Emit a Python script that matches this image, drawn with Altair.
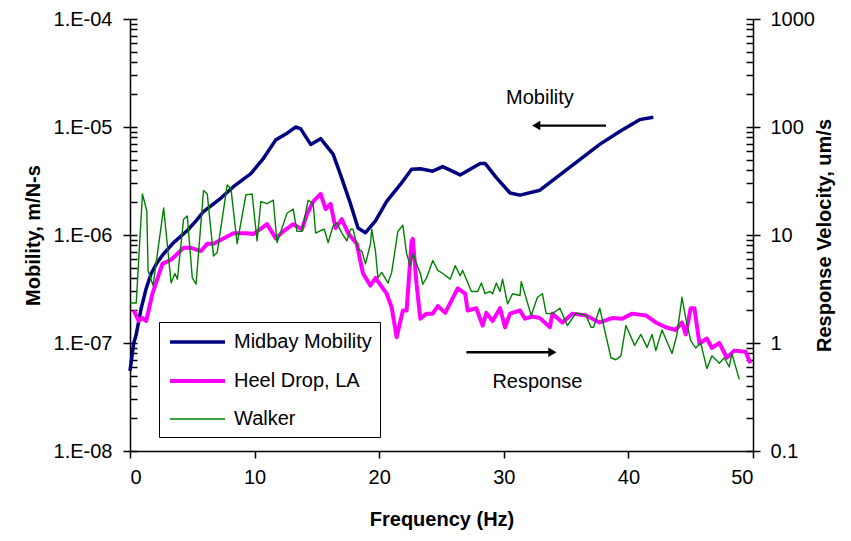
import altair as alt
import pandas as pd

# ---------------- data ----------------
mob_freq = [0.0, 0.3, 0.5, 0.9, 1.3, 1.7, 2.2, 2.7, 3.5, 4.6, 5.3, 5.9, 7.3, 8.3, 9.7,
            10.7, 11.7, 12.5, 13.3, 13.7, 14.5, 15.3, 16.3, 16.9, 17.7, 18.3, 18.9,
            19.7, 20.6, 21.7, 22.6, 23.3, 24.3, 25.1, 26.5, 28.1, 28.5, 29.4, 30.5,
            31.3, 32.9, 34.5, 36.1, 37.7, 39.3, 40.9, 42.0]
mob_val = [5.5e-8, 1.0e-7, 1.2e-7, 2.1e-7, 3.2e-7, 4.4e-7, 5.6e-7, 6.7e-7, 8.5e-7,
           1.1e-6, 1.35e-6, 1.65e-6, 2.2e-6, 2.8e-6, 3.7e-6, 5.1e-6, 7.6e-6, 8.6e-6,
           1.0e-5, 9.6e-6, 6.9e-6, 7.8e-6, 5.6e-6, 3.6e-6, 1.94e-6, 1.16e-6, 1.05e-6,
           1.35e-6, 2.05e-6, 2.94e-6, 4.07e-6, 4.1e-6, 3.9e-6, 4.3e-6, 3.6e-6, 4.6e-6,
           4.6e-6, 3.4e-6, 2.45e-6, 2.34e-6, 2.6e-6, 3.6e-6, 5.0e-6, 6.9e-6, 9.1e-6,
           1.17e-5, 1.23e-5]

heel_freq = [0.3, 0.7, 1.0, 1.3, 1.8, 2.6, 3.3, 4.3, 4.9, 5.7, 6.2, 6.7, 7.5, 8.3, 9.4,
             9.9, 11.0, 11.7, 12.3, 13.1, 13.8, 14.2, 14.7, 15.3, 15.7, 16.1, 16.5,
             17.0, 17.5, 18.2, 18.7, 19.3, 19.7, 20.6, 21.0, 21.4, 21.9, 22.2, 22.6,
             22.7, 23.0, 23.3, 23.8, 24.3, 24.7, 25.3, 25.9, 26.3, 26.9, 27.1, 27.8,
             28.3, 28.6, 29.1, 29.7, 30.1, 30.5, 31.3, 31.7, 32.3, 32.9, 33.7, 33.9,
             34.7, 35.5, 36.6, 37.7, 38.7, 39.5, 40.3, 41.4, 42.2, 43.0, 43.8, 44.3,
             44.6, 45.0, 45.3, 45.7, 46.3, 46.7, 47.3, 47.9, 48.5, 49.4, 49.8]
heel_val = [2.0, 1.6, 1.7, 1.6, 2.86, 5.4, 5.9, 7.6, 7.6, 7.1, 8.3, 8.3, 9.3, 10.4, 10.4,
            10.2, 12.6, 9.3, 10.8, 12.6, 11.3, 15.6, 20.4, 24.0, 17.4, 19.4, 11.6,
            14.0, 10.4, 8.3, 4.4, 3.4, 4.0, 2.86, 2.14, 1.13, 2.0, 2.0, 8.8,
            9.2, 3.5, 1.68, 1.87, 1.87, 2.2, 1.9, 2.6, 3.2, 2.86, 2.0, 2.1,
            1.45, 1.9, 1.6, 2.1, 1.4, 1.87, 2.0, 1.68, 1.76, 1.7, 1.4, 1.87,
            1.55, 1.87, 1.8, 1.55, 1.7, 1.68, 1.87, 1.8, 1.55, 1.4, 1.32, 1.55,
            1.2, 2.1, 2.1, 0.99, 1.1, 0.9, 1.0, 0.73, 0.85, 0.83, 0.65]

walk_freq = [0.0, 0.5, 1.0, 1.35, 1.45, 1.85, 2.7, 3.3, 3.6, 3.8, 4.3, 4.6, 5.0, 5.3,
             5.9, 6.2, 6.7, 7.0, 7.8, 8.1, 8.6, 9.3, 9.8, 10.2, 10.5, 11.0, 11.5,
             11.8, 12.6, 13.1, 13.4, 13.8, 14.3, 14.7, 14.9, 15.3, 15.6, 15.9, 16.3,
             16.6, 17.0, 17.4, 17.7, 17.9, 18.3, 18.6, 18.9, 19.3, 19.4, 19.7, 19.9,
             20.2, 20.7, 21.0, 21.5, 21.9, 22.2, 22.5, 22.7, 23.3, 23.5, 23.8, 24.3,
             24.7, 25.1, 25.7, 26.1, 26.5, 26.7, 27.4, 27.9, 28.2, 28.5, 28.9, 29.1,
             29.4, 29.7, 29.9, 30.3, 30.7, 31.3, 31.4, 32.2, 32.7, 33.1, 33.4, 33.9,
             34.5, 35.1, 35.8, 36.6, 37.0, 37.2, 37.7, 38.6, 39.0, 39.4, 39.8, 40.5,
             41.0, 41.5, 41.9, 42.2, 42.7, 43.5, 43.9, 44.3, 44.6, 45.0, 45.4, 45.8,
             46.3, 46.7, 47.3, 47.7, 48.1, 48.3, 48.9]
walk_val = [2.35, 2.35, 24.0, 16.6, 4.7, 3.4, 17.8, 3.6, 4.4, 3.9, 14.0, 15.0, 4.0, 3.5,
            25.8, 24.0, 6.4, 6.9, 29.0, 27.0, 8.3, 23.5, 24.0, 8.8, 20.4, 19.5, 21.0,
            8.5, 15.9, 17.4, 10.8, 10.8, 21.0, 19.4, 10.4, 11.0, 11.3, 8.5, 12.1,
            13.0, 10.4, 8.8, 11.3, 11.3, 7.4, 7.1, 5.4, 8.3, 11.3, 7.1, 4.0,
            4.5, 3.6, 4.5, 10.8, 12.3, 6.7, 5.2, 6.7, 4.4, 3.5, 4.0, 5.8,
            4.7, 4.4, 3.9, 5.2, 4.2, 4.7, 3.0, 3.0, 3.6, 2.86, 3.0, 2.86,
            3.6, 3.0, 3.9, 2.3, 2.86, 2.75, 3.7, 1.8, 2.65, 2.86, 1.87, 1.87,
            2.1, 1.45, 1.9, 1.8, 1.4, 1.4, 2.1, 0.73, 0.70, 0.76, 1.45, 0.95,
            1.2, 0.91, 1.2, 0.85, 1.32, 0.8, 1.2, 2.65, 1.7, 1.05, 0.9, 1.0,
            0.58, 0.76, 0.65, 0.73, 0.6, 0.8, 0.46]

series_names = ["Midbay Mobility", "Heel Drop, LA", "Walker"]
series_colors = ["#000080", "#FF00FF", "#008000"]
series_widths = [3.5, 4.0, 1.4]

x_ticks = [0, 10, 20, 30, 40, 50]
left_ticks = [1e-8, 1e-7, 1e-6, 1e-5, 1e-4]
right_ticks = [0.1, 1, 10, 100, 1000]
left_minor = [m * 10.0 ** e for e in range(-8, -4) for m in range(1, 10)] + [1e-4]
right_minor = [m * 10.0 ** e for e in range(-1, 3) for m in range(1, 10)] + [1000]

# annotations (data coordinates)
mob_label = {"freq": [32.9], "value": [1.87e-5], "text": ["Mobility"]}
mob_arrow = {"freq": [38.2], "freq2": [32.6], "value": [1.03e-5]}
resp_label = {"freq": [32.7], "value": [0.44], "text": ["Response"]}
resp_arrow = {"freq": [27.0], "freq2": [33.9], "value": [0.82]}

# ---------------- chart ----------------
W, H = 623, 432
FONT = "Liberation Sans"

mob_df = pd.DataFrame({"freq": mob_freq, "value": mob_val, "series": "Midbay Mobility"})
resp_df = pd.concat([
    pd.DataFrame({"freq": heel_freq, "value": heel_val, "series": "Heel Drop, LA"}),
    pd.DataFrame({"freq": walk_freq, "value": walk_val, "series": "Walker"}),
], ignore_index=True)

left_scale = alt.Scale(type="log", domain=[1e-8, 1e-4], nice=False)
right_scale = alt.Scale(type="log", domain=[0.1, 1000], nice=False)

x_enc = alt.X("freq:Q", scale=alt.Scale(domain=[0, 50], nice=False),
              axis=alt.Axis(values=x_ticks, title="Frequency (Hz)", tickSize=7,
                            labelPadding=9, titlePadding=22, format="d"))

color = alt.Color("series:N", scale=alt.Scale(domain=series_names, range=series_colors),
                  legend=alt.Legend(title=None))
sw = alt.StrokeWidth("series:N",
                     scale=alt.Scale(type="ordinal", domain=series_names, range=series_widths),
                     legend=alt.Legend(title=None))

mob_line = alt.Chart(mob_df).mark_line(strokeJoin="round").encode(
    x=x_enc,
    y=alt.Y("value:Q", scale=left_scale,
            axis=alt.Axis(orient="left", values=left_ticks, tickSize=7, labelPadding=11,
                          labelExpr="'1.E-0' + round(-log(datum.value)/LN10)",
                          title="Mobility, m/N-s", titlePadding=10)),
    color=color, strokeWidth=sw,
)

resp_line = alt.Chart(resp_df).mark_line(strokeJoin="round").encode(
    x=x_enc,
    y=alt.Y("value:Q", scale=right_scale,
            axis=alt.Axis(orient="right", values=right_ticks, tickSize=7, labelPadding=10,
                          labelExpr="datum.value >= 1 ? format(datum.value, 'd') : format(datum.value, '.1f')",
                          title="Response Velocity, um/s", titleAngle=270, titlePadding=20)),
    color=color, strokeWidth=sw,
)

left_minor_axis = alt.Chart(pd.DataFrame({"value": left_minor})).mark_point(opacity=0).encode(
    y=alt.Y("value:Q", scale=left_scale,
            axis=alt.Axis(orient="right", offset=-W, values=left_minor, labels=False,
                          domain=False, tickSize=7, title=None))
)
right_minor_axis = alt.Chart(pd.DataFrame({"value": right_minor})).mark_point(opacity=0).encode(
    y=alt.Y("value:Q", scale=right_scale,
            axis=alt.Axis(orient="left", offset=-W, values=right_minor, labels=False,
                          domain=False, tickSize=7, title=None))
)

def ytext(scale):
    return alt.Y("value:Q", scale=scale, axis=None)

mob_text = alt.Chart(pd.DataFrame(mob_label)).mark_text(
    font=FONT, fontSize=20, color="black", align="center", baseline="middle"
).encode(x="freq:Q", y=ytext(left_scale), text="text:N")
mob_rule = alt.Chart(pd.DataFrame(mob_arrow)).mark_rule(color="black", strokeWidth=2.4).encode(
    x="freq:Q", x2="freq2:Q", y=ytext(left_scale))
mob_head = alt.Chart(pd.DataFrame(mob_arrow)).mark_point(
    shape="triangle-left", filled=True, color="black", opacity=1, size=90
).encode(x="freq2:Q", y=ytext(left_scale))

resp_text = alt.Chart(pd.DataFrame(resp_label)).mark_text(
    font=FONT, fontSize=20, color="black", align="center", baseline="middle"
).encode(x="freq:Q", y=ytext(right_scale), text="text:N")
resp_rule = alt.Chart(pd.DataFrame(resp_arrow)).mark_rule(color="black", strokeWidth=2.4).encode(
    x="freq:Q", x2="freq2:Q", y=ytext(right_scale))
resp_head = alt.Chart(pd.DataFrame(resp_arrow)).mark_point(
    shape="triangle-right", filled=True, color="black", opacity=1, size=90
).encode(x="freq2:Q", y=ytext(right_scale))

chart = alt.layer(
    mob_line, resp_line, left_minor_axis, right_minor_axis,
    mob_text, mob_rule, mob_head, resp_text, resp_rule, resp_head,
).resolve_scale(y="independent").properties(
    width=W, height=H,
    autosize=alt.AutoSizeParams(type="none"),
    padding={"left": 122, "top": 11, "right": 90, "bottom": 82},
    background="white",
).configure_view(stroke=None).configure_axis(
    grid=False, domainColor="black", domainWidth=1.5, tickColor="black", tickWidth=1.5,
    labelColor="black", labelFont=FONT, labelFontSize=20, titleFont=FONT, titleFontSize=20,
    titleFontWeight="bold", titleColor="black",
).configure_legend(
    orient="none", legendX=29, legendY=303, strokeColor="black", fillColor="white",
    padding=8, symbolType="M-0.9,0H4.6", symbolSize=400, labelFont=FONT, labelFontSize=20,
    labelColor="black", rowPadding=17, labelOffset=43, cornerRadius=0, labelLimit=300,
)

chart.save("out.html", embed_options={"renderer": "svg", "actions": False})
